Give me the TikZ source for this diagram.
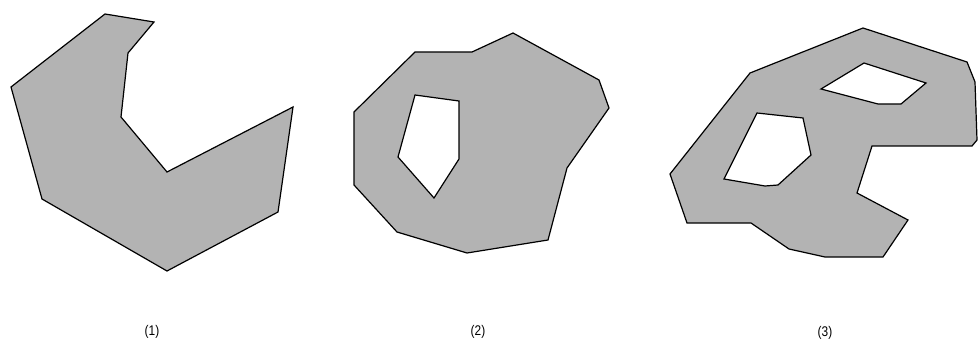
\documentclass[tikz,border=0pt]{standalone}
\usepackage{fontspec}
\setmainfont{Liberation Sans}
\tikzset{every picture/.style={line width=0.9pt}}
\tikzset{
region/.style={draw=black, fill={rgb, 255:red, 179; green, 179; blue, 179}, even odd rule, line join=miter},
caption/.style={inner sep=0.75pt, font=\fontsize{10.5}{12}\selectfont, xscale=0.85}}

\begin{document}
\begin{tikzpicture}[x=0.75pt,y=0.75pt,yscale=-1,xscale=1]
\useasboundingbox (0,0) rectangle (978,342);

%Shape: Polygon (1), no hole
\draw [region]  (105,14) -- (154,22) -- (128,53) -- (121,117) -- (167,172) -- (293,107) -- (278,212) -- (167,271) -- (42,199) -- (11,87) -- cycle ;

%Shape: Polygon (2), one hole
\draw [region]  (415,52) -- (472,52) -- (513,33) -- (599,80) -- (609,108) -- (567,168) -- (548,240) -- (467,253) -- (397,232) -- (354,185) -- (354,112) -- cycle
  (415,95) -- (459,101) -- (459,159) -- (434,198) -- (398,157) -- cycle ;

%Shape: Polygon (3), two holes
\draw [region]  (863,28) -- (967,62) -- (975,82) -- (977,140) -- (972,146) -- (872,146) -- (857,193) -- (908,220) -- (883,257) -- (825,257) -- (789,249) -- (751,223) -- (687,223) -- (670,174) -- (750,73) -- cycle
  (864,63) -- (926,83) -- (901,104) -- (878,104) -- (821,89) -- cycle
  (757,113) -- (803,118) -- (811,155) -- (778,185) -- (765,186) -- (724,179) -- cycle ;

% Text Node
\node [caption] (lbl1) at (152,332) {(1)};
% Text Node
\node [caption] (lbl2) at (478,332) {(2)};
% Text Node
\node [caption] (lbl3) at (825,333) {(3)};

\end{tikzpicture}
\end{document}
